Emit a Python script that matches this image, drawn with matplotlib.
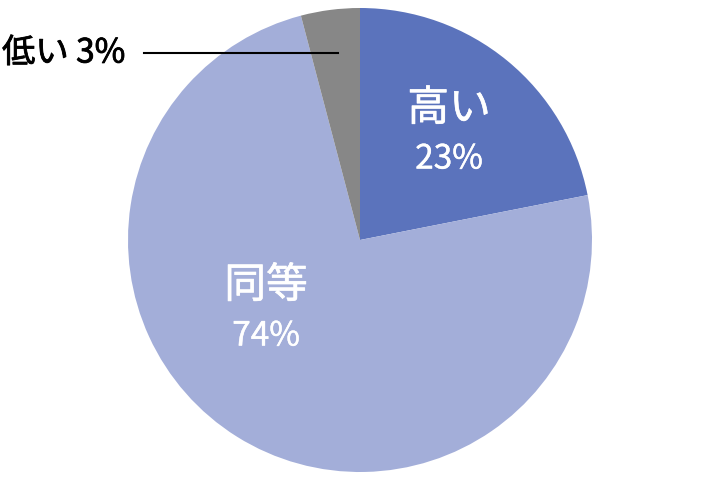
import matplotlib
matplotlib.use("Agg")
import matplotlib.pyplot as plt
import matplotlib.patheffects as pe

plt.rcParams['font.family'] = ['Noto Sans CJK JP', 'DejaVu Sans']

categories = ["高い", "同等", "低い"]
values = [21.9, 74.0, 4.1]
pct_labels = ["23%", "74%", "3%"]
colors = ["#5B73BC", "#A3AED9", "#878787"]

fig = plt.figure(figsize=(7.2, 4.8), dpi=100)
ax = fig.add_axes([0, 0, 1, 1])

ax.pie(values, colors=colors, startangle=90, counterclock=False,
       center=(360, 240), radius=232, frame=True,
       wedgeprops=dict(linewidth=0))
ax.set_xlim(0, 720)
ax.set_ylim(0, 480)
ax.set_aspect('equal')
ax.axis('off')

cat_fx = [pe.withStroke(linewidth=0.45, foreground='white')]
pct_fx = [pe.withStroke(linewidth=0.3, foreground='white')]
black_fx = [pe.withStroke(linewidth=0.6, foreground='black')]

# inside labels
ax.text(449, 480 - 109, categories[0], color='white', fontsize=30,
        ha='center', va='center', path_effects=cat_fx)
ax.text(449, 480 - 159, pct_labels[0], color='white', fontsize=24,
        ha='center', va='center', path_effects=pct_fx)
ax.text(266, 480 - 286, categories[1], color='white', fontsize=30,
        ha='center', va='center', path_effects=cat_fx)
ax.text(266, 480 - 336, pct_labels[1], color='white', fontsize=24,
        ha='center', va='center', path_effects=pct_fx)

# outside label for small slice
ax.text(2, 480 - 53, f"{categories[2]} {pct_labels[2]}", color='black',
        fontsize=24, ha='left', va='center', path_effects=black_fx)
ax.plot([144, 338], [480 - 53, 480 - 53], color='black', linewidth=1.5)

fig.savefig("out.png", dpi=100)
